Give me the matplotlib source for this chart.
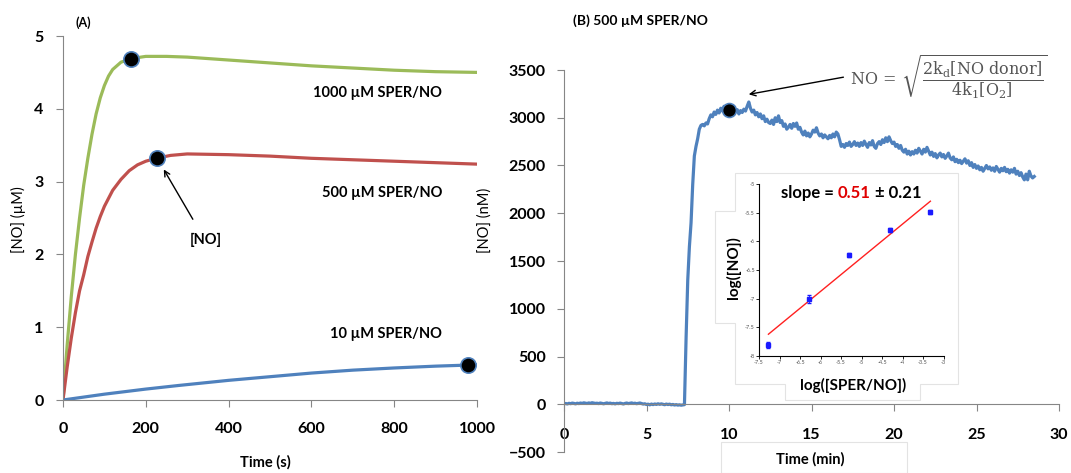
import numpy as np
import matplotlib.pyplot as plt
from matplotlib.patches import Polygon, Rectangle

plt.rcParams['font.family'] = ['Lato', 'DejaVu Sans']
plt.rcParams['mathtext.fontset'] = 'dejavuserif'

# (A) simulated [NO] vs time, uM
t_sec = [0, 10, 20, 30, 40, 50, 60, 70, 80, 90, 100, 110, 120, 140, 165, 200,
         250, 300, 400, 500, 600, 700, 800, 900, 1000]
no_1000 = [0, 0.75, 1.42, 2.0, 2.5, 2.95, 3.32, 3.65, 3.93, 4.15, 4.32, 4.45, 4.54,
           4.64, 4.69, 4.72, 4.72, 4.71, 4.67, 4.63, 4.59, 4.56, 4.53, 4.51, 4.50]
t_sec_500 = [0, 10, 20, 30, 40, 50, 60, 70, 80, 90, 100, 120, 140, 160, 180, 200,
             225, 260, 300, 400, 500, 600, 700, 800, 900, 1000]
no_500 = [0, 0.45, 0.85, 1.2, 1.5, 1.72, 1.97, 2.17, 2.36, 2.52, 2.66, 2.88, 3.03,
          3.15, 3.23, 3.28, 3.32, 3.36, 3.38, 3.37, 3.35, 3.32, 3.30, 3.28, 3.26, 3.24]
t_sec_10 = [0, 50, 100, 200, 280, 400, 500, 600, 700, 800, 900, 980, 1000]
no_10 = [0, 0.04, 0.08, 0.15, 0.2, 0.27, 0.32, 0.37, 0.41, 0.44, 0.465, 0.48, 0.485]
mark_t = [165, 228, 978]
mark_no = [4.69, 3.32, 0.48]

# (B) measured [NO] for 500 uM SPER/NO, nM, one value every 0.1 min
dt_min = 0.1
no_meas = [
    5, 8, 3, 10, 6, 12, 9, 4, 11, 7,
    13, 9, 15, 11, 8, 14, 10, 16, 12, 9,
    11, 7, 13, 9, 5, 10, 14, 8, 12, 6,
    9, 4, 10, 7, 12, 8, 3, 9, 13, 7,
    10, 14, 8, 11, 6, 9, 13, 7, 2, 5,
    -3, 1, -6, 2, -4, 3, -2, 5, -1, 4,
    0, -5, 2, -3, 1, -6, -2, -8, -4, -9,
    -6, -10, -7, -4, 700, 1300, 1650, 1900, 2300, 2600,
    2700, 2780, 2880, 2920, 2930, 2915, 2945, 2935, 2990, 3030,
    3010, 3060, 3035, 3080, 3050, 3100, 3070, 3120, 3060, 3090,
    3050, 3095, 3070, 3110, 3060, 3085, 3040, 3075, 3055, 3090,
    3070, 3120, 3165, 3100, 3060, 3080, 3030, 3055, 3010, 3040,
    2990, 3020, 2960, 2985, 2950, 2940, 2975, 2930, 3000, 2960,
    3020, 2950, 2970, 2910, 2935, 2880, 2900, 2930, 2890, 2940,
    2910, 2945, 2880, 2900, 2850, 2820, 2860, 2810, 2840, 2800,
    2830, 2870, 2850, 2895, 2840, 2810, 2830, 2790, 2820, 2800,
    2780, 2815, 2790, 2830, 2800, 2850, 2830, 2770, 2700, 2720,
    2690, 2730, 2710, 2745, 2700, 2720, 2750, 2710, 2735, 2700,
    2740, 2710, 2755, 2720, 2690, 2740, 2715, 2760, 2700, 2680,
    2730, 2750, 2720, 2770, 2740, 2790, 2750, 2800, 2760, 2730,
    2745, 2700, 2720, 2680, 2710, 2660, 2640, 2670, 2620, 2650,
    2610, 2645, 2620, 2660, 2630, 2680, 2650, 2620, 2670, 2640,
    2690, 2650, 2610, 2640, 2595, 2625, 2580, 2610, 2630, 2590,
    2615, 2575, 2600, 2630, 2580, 2560, 2590, 2540, 2565, 2530,
    2555, 2520, 2545, 2570, 2525, 2550, 2500, 2530, 2480, 2510,
    2470, 2495, 2455, 2480, 2440, 2470, 2500, 2465, 2485, 2450,
    2475, 2440, 2490, 2460, 2430, 2470, 2445, 2480, 2435, 2460,
    2420, 2455, 2430, 2470, 2410, 2440, 2395, 2425, 2380, 2350,
    2410, 2350, 2440, 2390, 2370, 2385,
]
t_min = np.arange(len(no_meas)) * dt_min
peak_t, peak_no = 10, 3080

# inset: log([NO]) vs log([SPER/NO])
log_sper = [-7.27, -6.29, -5.30, -4.31, -3.32]
log_no = [-7.81, -7.0, -6.24, -5.80, -5.49]
log_no_err = [0.05, 0.07, 0.04, 0.03, 0.03]
fit_x = [-7.27, -3.32]
fit_y = [-7.62, -5.30]

green = '#9bbb59'
red = '#c0504d'
blue = '#4f81bd'
spine_c = '#868686'

fig = plt.figure(figsize=(10.71, 4.73), dpi=100)

# ---- panel A ----
ax = fig.add_axes([63/1071, 1-400/473, 414/1071, 364/473])
ax.plot(t_sec, no_1000, color=green, lw=2.3)
ax.plot(t_sec_500, no_500, color=red, lw=2.3)
ax.plot(t_sec_10, no_10, color=blue, lw=2.3)
ax.plot(mark_t, mark_no, 'o', ms=11, color='black', mec=blue, mew=1.2, ls='none', zorder=5)
ax.set_xlim(0, 1000)
ax.set_ylim(0, 5)
ax.set_xticks([0, 200, 400, 600, 800, 1000])
ax.set_yticks([0, 1, 2, 3, 4, 5])
for s in ['top', 'right']:
    ax.spines[s].set_visible(False)
for s in ['left', 'bottom']:
    ax.spines[s].set_color(spine_c)
ax.tick_params(axis='x', length=5, color=spine_c, pad=11, labelsize=11.5)
ax.tick_params(axis='y', length=5, color=spine_c, pad=9, labelsize=11.5)
for lab in ax.get_xticklabels() + ax.get_yticklabels():
    lab.set_fontweight('bold')
ax.set_xlabel('Time (s)', fontsize=10.5, fontweight='bold', va='center')
ax.xaxis.set_label_coords(0.49, -0.17)
ax.set_ylabel('[NO] (µM)', fontsize=10.5, va='center')
ax.yaxis.set_label_coords(-0.108, 0.495)
ax.text(760, 4.22, '1000 µM SPER/NO', fontsize=10.5, fontweight='bold', ha='center', va='center')
ax.text(772, 2.85, '500 µM SPER/NO', fontsize=10.5, fontweight='bold', ha='center', va='center')
ax.text(780, 0.9, '10 µM SPER/NO', fontsize=10.5, fontweight='bold', ha='center', va='center')
ax.annotate('', xy=(240, 3.2), xytext=(317, 2.45),
            arrowprops=dict(arrowstyle='->', color='black', lw=1))
ax.text(346, 2.2, '[NO]', fontsize=10.5, fontweight='bold', ha='center', va='center')
fig.text(83/1071, 1-23/473, '(A)', fontsize=9, fontweight='bold', ha='center', va='center')

# ---- panel B ----
bx = fig.add_axes([564/1071, 1-452/473, 495/1071, 382/473])
bx.plot(t_min, no_meas, color=blue, lw=2.3)
bx.plot([peak_t], [peak_no], 'o', ms=10, color='black', mec=blue, mew=1.2, zorder=5)
bx.set_xlim(0, 30)
bx.set_ylim(-500, 3500)
bx.set_xticks([0, 5, 10, 15, 20, 25, 30])
bx.set_yticks([-500, 0, 500, 1000, 1500, 2000, 2500, 3000, 3500])
for s in ['top', 'right']:
    bx.spines[s].set_visible(False)
for s in ['left', 'bottom']:
    bx.spines[s].set_color(spine_c)
bx.spines['bottom'].set_position(('data', 0))
bx.tick_params(axis='x', length=5, color=spine_c, pad=12, labelsize=11.5)
bx.tick_params(axis='y', length=5, color=spine_c, pad=8, labelsize=11.5)
for lab in bx.get_xticklabels() + bx.get_yticklabels():
    lab.set_fontweight('bold')
bx.set_ylabel('[NO] (nM)', fontsize=10.5, va='center')
bx.yaxis.set_label_coords(-0.16, 0.607)
bx.text(0.498, -0.018, 'Time (min)', transform=bx.transAxes, fontsize=10.5,
        fontweight='bold', ha='center', va='center')
fig.patches.append(Rectangle((721/1071, 0), 186/1071, 31/473, transform=fig.transFigure,
                             fill=False, ec='#e3e3e3', lw=0.8))
fig.text(573/1071, 1-21/473, '(B) 500 µM SPER/NO', fontsize=10, fontweight='bold',
         ha='left', va='center')
bx.annotate('', xy=(11.03, 3240), xytext=(17.1, 3430),
            arrowprops=dict(arrowstyle='->', color='black', lw=1))
bx.text(17.35, 3430, r'$\mathrm{NO}\,=\,\sqrt{\dfrac{2\mathrm{k_d[NO\ donor]}}{4\mathrm{k_1[O_2]}}}$',
        fontsize=11.5, color='#555555', ha='left', va='center')

# ---- inset ----
cx = fig.add_axes([759/1071, 1-356/473, 184.5/1071, 172/473])
frame = [(-0.13, -0.163), (-0.13, 0.192), (-0.238, 0.192), (-0.238, 0.843), (-0.13, 0.843),
         (-0.13, 1.064), (1.08, 1.064), (1.08, -0.163), (0.873, -0.163), (0.873, -0.256),
         (0.141, -0.256), (0.141, -0.163)]
cx.add_patch(Polygon(frame, closed=True, transform=cx.transAxes, fc='white',
                     ec='#e3e3e3', lw=0.8, clip_on=False, zorder=-1))
cx.errorbar(log_sper, log_no, yerr=log_no_err, fmt='s', ms=2.2, color='#1a1aff',
            ecolor='#1a1aff', elinewidth=0.6, capsize=1.2, zorder=3)
cx.plot(fit_x, fit_y, color='#ff2020', lw=1)
cx.set_xlim(-7.5, -3)
cx.set_ylim(-8, -5)
cx.set_xticks([-7.5, -7, -6.5, -6, -5.5, -5, -4.5, -4, -3.5, -3])
cx.set_xticklabels(['-7.5', '-7', '-6.5', '-6', '-5.5', '-5', '-4.5', '-4', '-3.5', '-3'])
cx.set_yticks([-8, -7.5, -7, -6.5, -6, -5.5, -5])
cx.set_yticklabels(['-8', '-7.5', '-7', '-6.5', '-6', '-5.5', '-5'])
for s in ['top', 'right']:
    cx.spines[s].set_visible(False)
for s in ['left', 'bottom']:
    cx.spines[s].set_linewidth(0.8)
cx.tick_params(length=2, width=0.6, pad=1, labelsize=4, labelcolor='#555555')
cx.set_ylabel('log([NO])', fontsize=11, fontweight='bold', va='center')
cx.yaxis.set_label_coords(-0.136, 0.517)
cx.set_xlabel('log([SPER/NO])', fontsize=11, fontweight='bold', va='center')
cx.xaxis.set_label_coords(0.508, -0.169)
t1 = cx.text(0.119, 0.948, 'slope = ', transform=cx.transAxes, fontsize=12,
             fontweight='bold', ha='left', va='center')
t2 = cx.annotate('0.51', xy=(1, 0), xycoords=t1, va='bottom', ha='left', fontsize=12,
                 fontweight='bold', color='#e00000')
cx.annotate(' ± 0.21', xy=(1, 0), xycoords=t2, va='bottom', ha='left', fontsize=12,
            fontweight='bold')

fig.savefig('out.png', dpi=100)
